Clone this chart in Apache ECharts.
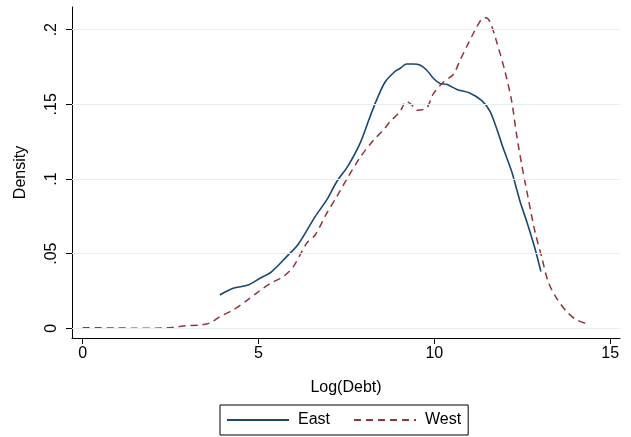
<!DOCTYPE html>
<html>
<head>
<meta charset="utf-8">
<script src="https://cdn.jsdelivr.net/npm/echarts@6/dist/echarts.min.js"></script>
<style>
html,body{margin:0;padding:0;background:#fff;}
#chart{width:631px;height:437px;}
</style>
</head>
<body>
<div id="chart"></div>
<script>
const xTicks = [0, 5, 10, 15];
const yTicks = [0, 0.05, 0.1, 0.15, 0.2];
const yTickLabels = ['0', '.05', '.1', '.15', '.2'];

const eastX = [3.90,4.28,4.71,5.04,5.36,5.80,6.13,6.61,6.94,7.22,7.55,7.89,8.17,8.36,8.60,8.88,9.02,9.21,9.40,9.59,9.78,9.97,10.16,10.35,10.64,11.02,11.35,11.58,11.77,11.96,12.20,12.44,12.63,12.86,13.03];
const eastY = [0.0223,0.0268,0.0290,0.0335,0.0377,0.0480,0.0563,0.0748,0.0860,0.0980,0.1090,0.1240,0.1417,0.1530,0.1650,0.1720,0.1740,0.1770,0.1770,0.1764,0.1730,0.1675,0.1640,0.1634,0.1600,0.1575,0.1525,0.1455,0.1340,0.1206,0.1050,0.0848,0.0714,0.0536,0.0380];

const westX = [0,0.5,1.0,1.5,2.0,2.4,2.7,2.96,3.34,3.62,3.90,4.28,4.62,5.00,5.33,5.70,5.99,6.37,6.61,6.94,7.22,7.55,7.89,8.27,8.55,8.74,9.02,9.21,9.36,9.50,9.78,9.97,10.26,10.54,10.73,10.92,11.16,11.35,11.46,11.58,11.77,12.01,12.20,12.34,12.49,12.67,12.86,13.06,13.24,13.48,13.77,14.05,14.38];
const westY = [0.0004,0.0003,0.0002,0.0001,0.0001,0.0003,0.0010,0.0018,0.0022,0.0036,0.0078,0.0123,0.0178,0.0245,0.0300,0.0346,0.0413,0.0570,0.0625,0.0770,0.0880,0.1015,0.1145,0.1260,0.1328,0.1384,0.1450,0.1520,0.1496,0.1460,0.1475,0.1570,0.1650,0.1700,0.1795,0.1886,0.1998,0.2072,0.2080,0.2054,0.1920,0.1720,0.1520,0.1295,0.1090,0.0870,0.0650,0.0470,0.0310,0.0200,0.0110,0.0056,0.0027];

const seriesNames = ['East', 'West'];
const seriesColors = ['#1a476f', '#90353b'];

const FONT = 'Liberation Sans, Arial, sans-serif';
const chart = echarts.init(document.getElementById('chart'), null, {renderer: 'canvas'});

function zip(xs, ys) { return xs.map((x, i) => [x, ys[i]]); }

chart.setOption({
  animation: false,
  backgroundColor: '#ffffff',
  textStyle: {fontFamily: FONT},
  grid: {left: 72, right: 11, top: 7, bottom: 99, containLabel: false},
  legend: {
    data: seriesNames,
    left: 220, top: 405,
    orient: 'horizontal',
    itemWidth: 62, itemHeight: 14, itemGap: 23,
    borderColor: '#000', borderWidth: 1, borderRadius: 0,
    padding: [7, 7, 7, 6],
    itemStyle: {opacity: 0},
    textStyle: {fontSize: 16, color: '#000', fontFamily: FONT, padding: [0, 0, 0, 4]}
  },
  xAxis: {
    type: 'value', min: -0.304, max: 15.28,
    name: 'Log(Debt)', nameLocation: 'middle', nameGap: 42,
    nameTextStyle: {fontSize: 16, color: '#000', fontFamily: FONT},
    axisLine: {show: true, onZero: false, lineStyle: {color: '#000', width: 1}},
    axisTick: {show: true, length: 6, customValues: xTicks, lineStyle: {color: '#000', width: 1}},
    axisLabel: {customValues: xTicks, fontSize: 16, color: '#000', margin: 8, fontFamily: FONT},
    splitLine: {show: false}
  },
  yAxis: {
    type: 'value', min: -0.0065, max: 0.2152,
    name: 'Density', nameLocation: 'middle', nameGap: 43, nameRotate: 90,
    nameTextStyle: {fontSize: 16, color: '#000', fontFamily: FONT},
    axisLine: {show: true, onZero: false, lineStyle: {color: '#000', width: 1}},
    axisTick: {show: true, length: 6, customValues: yTicks, lineStyle: {color: '#000', width: 1}},
    axisLabel: {
      customValues: yTicks, rotate: 90, fontSize: 16, color: '#000', margin: 12, fontFamily: FONT,
      formatter: function (v) {
        const i = yTicks.findIndex(t => Math.abs(t - v) < 1e-9);
        return i >= 0 ? yTickLabels[i] : '';
      }
    },
    splitLine: {show: false}
  },
  series: [
    {
      name: 'grid', type: 'line', data: [], z: 1, silent: true,
      markLine: {
        silent: true, symbol: 'none', animation: false,
        label: {show: false},
        lineStyle: {color: '#e6eef1', width: 1, type: 'solid'},
        data: yTicks.map(v => ({yAxis: v}))
      }
    },
    {
      name: seriesNames[0], type: 'line', data: zip(eastX, eastY),
      showSymbol: false, symbol: 'none', smooth: 0.3, z: 3,
      color: seriesColors[0],
      lineStyle: {color: seriesColors[0], width: 1.6, type: 'solid'}
    },
    {
      name: seriesNames[1], type: 'line', data: zip(westX, westY),
      showSymbol: false, symbol: 'none', smooth: 0.3, z: 3,
      color: seriesColors[1],
      lineStyle: {color: seriesColors[1], width: 1.5, type: [7, 5]}
    }
  ]
});
</script>
</body>
</html>
